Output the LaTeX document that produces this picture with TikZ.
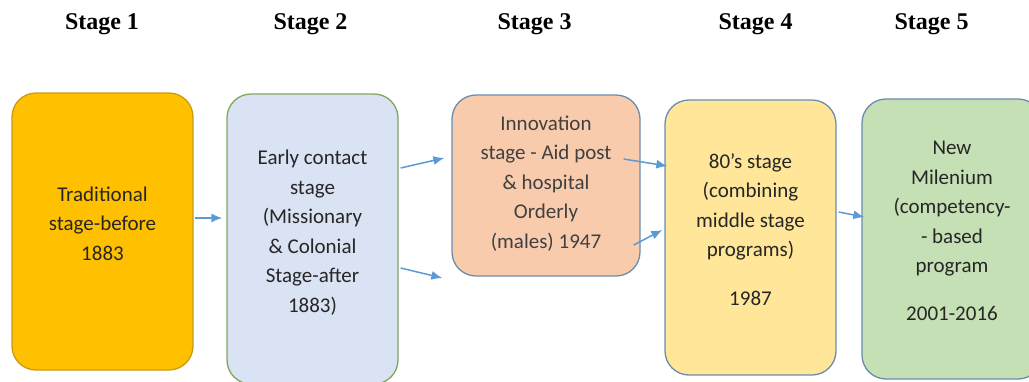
\documentclass[tikz,border=0pt]{standalone}
\usepackage{fontspec}
\setmainfont{Carlito}
\newfontfamily\headfont{Liberation Serif}
\usepackage{tikz}
\usetikzlibrary{arrows.meta,calc,positioning}
\usepackage{xcolor}
\definecolor{flowblue}{HTML}{5B9BD5}
\definecolor{boxtext}{HTML}{262626}
\definecolor{innotext}{HTML}{404040}
\definecolor{tradfill}{HTML}{FFC000}
\definecolor{tradline}{HTML}{C99A1A}
\definecolor{earlyfill}{HTML}{DAE3F3}
\definecolor{earlyline}{HTML}{7FA65E}
\definecolor{innofill}{HTML}{F8CBAD}
\definecolor{eightyfill}{HTML}{FFE699}
\definecolor{milfill}{HTML}{C5E0B4}
\definecolor{blueline}{HTML}{6A8CAF}

\begin{document}
\begin{tikzpicture}[x=1pt,y=-1pt,>=Latex,font=\fontsize{21}{29.5}\selectfont]
  \tikzset{
    stagebox/.style={draw,line width=1.3pt,rounded corners=24pt,inner sep=0pt,
      align=center,text depth=16pt,text=boxtext},
    stagehead/.style={font=\headfont\bfseries\fontsize{24}{28}\selectfont,anchor=base},
    flow/.style={-{Latex[length=11pt,width=9pt]},line width=1.5pt,draw=flowblue,fill=flowblue}
  }
  \useasboundingbox (0,0) rectangle (1029,381);

  % headings over the stages
  \foreach \n/\x in {1/102,2/310.5,3/534.5,4/755.5,5/931.5}
    \node[stagehead] (h\n) at (\x,29) {Stage \n};

  % the five stages
  \node[stagebox,fill=tradfill,draw=tradline,minimum width=181pt,minimum height=277pt]
    (s1) at (102.5,231.5) {Traditional\\stage-before\\1883};
  \node[stagebox,fill=earlyfill,draw=earlyline,minimum width=171pt,minimum height=290pt]
    (s2) at (312.5,239) {Early contact\\stage\\(Missionary\\\& Colonial\\Stage-after\\1883)};
  \node[stagebox,fill=innofill,draw=blueline,text=innotext,text depth=7pt,
    minimum width=188pt,minimum height=181pt]
    (s3) at (546,185.5) {Innovation\\stage - Aid post\\\& hospital\\Orderly\\(males) 1947};
  \node[stagebox,fill=eightyfill,draw=blueline,minimum width=171pt,minimum height=275pt]
    (s4) at (750.5,237.5) {80’s stage\\(combining\\middle stage\\programs)\\[19pt]1987};
  \node[stagebox,fill=milfill,draw=blueline,minimum width=180pt,minimum height=280pt]
    (s5) at (952,239) {New\\Milenium\\(competency-\\- based\\program\\[18pt]2001-2016};

  % arrows between stages
  \draw[flow] ($(s1.east)+(1,-13.5)$) -- ($(s2.west)+(-4,-21)$);
  \draw[flow] ($(s2.east)+(2,-71)$) -- ($(s3.west)+(-7,-27.5)$);
  \draw[flow] ($(s2.east)+(2,29)$) -- ($(s3.west)+(-9,92.5)$);
  \draw[flow] ($(s3.east)+(-17,-26.5)$) -- ($(s4.west)+(3,-71.5)$);
  \draw[flow] ($(s3.east)+(-7,59.5)$) -- ($(s4.west)+(-2,-7.5)$);
  \draw[flow] ($(s4.east)+(2,-25.5)$) -- ($(s5.west)+(3,-22)$);
\end{tikzpicture}
\end{document}
